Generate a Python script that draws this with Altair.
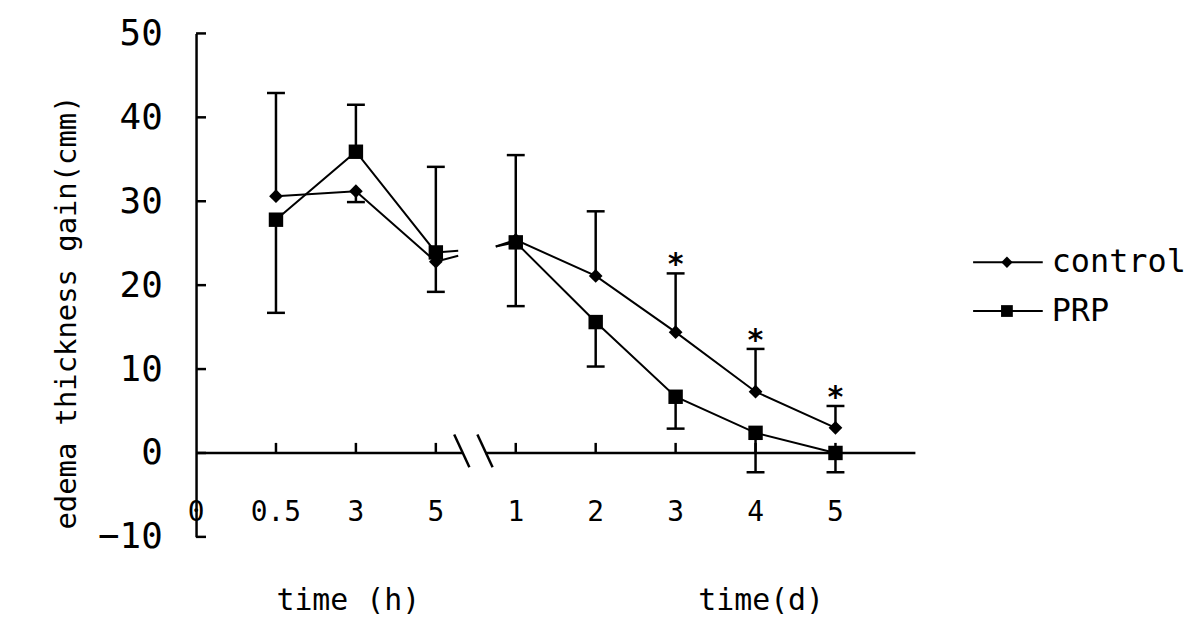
import altair as alt
import pandas as pd

# ---------------- data ----------------
tick_labels = ["0", "0.5", "3", "5", "1", "2", "3", "4", "5"]
tick_index = [0, 1, 2, 3, 4, 5, 6, 7, 8]
time_index = [1, 2, 3, 4, 5, 6, 7, 8]
segment = ["h", "h", "h", "d", "d", "d", "d", "d"]
series_names = ["control", "PRP"]
control_mean = [30.6, 31.2, 22.8, 25.4, 21.1, 14.4, 7.3, 3.0]
prp_mean = [27.8, 35.9, 23.9, 25.1, 15.6, 6.7, 2.4, 0.0]
control_err_end = [42.9, 29.9, 19.2, 35.5, 28.8, 21.4, 12.4, 5.6]
prp_err_end = [16.7, 41.5, 34.1, 17.5, 10.3, 2.9, -2.3, -2.3]
significant = [False, False, False, False, False, True, True, True]
# short line stubs drawn at the axis break
stub_index = {"h": 3.28, "d": 3.75}
control_stub = {"h": 23.5, "d": 24.6}
prp_stub = {"h": 24.1, "d": 24.6}
y_ticks = [-10, 0, 10, 20, 30, 40, 50]

FONT = "DejaVu Sans Mono"

means = {"control": control_mean, "PRP": prp_mean}
ends = {"control": control_err_end, "PRP": prp_err_end}
stubs = {"control": control_stub, "PRP": prp_stub}

pts = []
for s in series_names:
    for i, x in enumerate(time_index):
        pts.append({"series": s, "x": x, "mean": means[s][i], "end": ends[s][i],
                    "seg": segment[i], "sig": significant[i]})
pts_df = pd.DataFrame(pts)

line_rows = [dict(series=r["series"], seg=r["seg"], x=r["x"], mean=r["mean"]) for r in pts]
for s in series_names:
    for seg in ["h", "d"]:
        line_rows.append(dict(series=s, seg=seg, x=stub_index[seg], mean=stubs[s][seg]))
line_df = pd.DataFrame(line_rows)

xs = alt.Scale(domain=[0, 9], nice=False, zero=False)
ys = alt.Scale(domain=[-10, 50], nice=False, zero=False)

yaxis = alt.Axis(values=y_ticks, ticks=False, tickSize=0, labelPadding=34,
                 labelFont=FONT, labelFontSize=36, labelColor="black",
                 domainColor="black", domainWidth=2.5, grid=False,
                 title="edema thickness gain(cmm)", titleFont=FONT, titleFontSize=29,
                 titleFontWeight="normal", titleColor="black", titleAngle=270,
                 titleX=-121, titleY=280, titleBaseline="alphabetic", titleAlign="center")

X = lambda: alt.X("x:Q", scale=xs, axis=None)

lines = alt.Chart(line_df).mark_line(color="black", strokeWidth=2).encode(
    x=X(), y=alt.Y("mean:Q", scale=ys, axis=yaxis),
    detail=["series:N", "seg:N"], order="x:Q")

err = alt.Chart(pts_df).mark_rule(color="black", strokeWidth=2.5).encode(
    x=X(), y=alt.Y("mean:Q", scale=ys), y2="end:Q")
caps = alt.Chart(pts_df).mark_tick(color="black", thickness=2.5, size=18,
                                   orient="horizontal", opacity=1).encode(
    x=X(), y=alt.Y("end:Q", scale=ys))

shape_scale = alt.Scale(domain=series_names, range=["diamond", "square"])
size_scale = alt.Scale(domain=series_names, range=[190, 210])
points = alt.Chart(pts_df).mark_point(filled=True, color="black", opacity=1).encode(
    x=X(), y=alt.Y("mean:Q", scale=ys),
    shape=alt.Shape("series:N", scale=shape_scale, legend=None),
    size=alt.Size("series:N", scale=size_scale, legend=None))

stars = alt.Chart(pts_df).transform_filter(
    (alt.datum.sig == True) & (alt.datum.series == "control")
).mark_text(text="*", font=FONT, fontSize=30, fontWeight="bold", color="black",
            baseline="alphabetic", dy=1).encode(
    x=X(), y=alt.Y("end:Q", scale=ys))

# x axis (drawn by hand because of the break)
axis_segs = pd.DataFrame({"x": [0, 3.62], "x2": [3.33, 9]})
xaxis_line = alt.Chart(axis_segs).mark_rule(color="black", strokeWidth=2.5).encode(
    x=X(), x2="x2:Q", y=alt.datum(0))
slashes_df = pd.DataFrame({"x": [3.23, 3.52], "x2": [3.42, 3.71]})
slashes = alt.Chart(slashes_df).mark_rule(color="black", strokeWidth=2.5).encode(
    x=X(), x2="x2:Q", y=alt.Y(datum=2.2, scale=ys), y2=alt.datum(-1.7))
xticks = alt.Chart(pd.DataFrame({"x": time_index})).mark_rule(
    color="black", strokeWidth=2.5).encode(
    x=X(), y=alt.Y(datum=0, scale=ys), y2=alt.datum(1.2))
xlabels = alt.Chart(pd.DataFrame({"x": tick_index, "lab": tick_labels})).mark_text(
    font=FONT, fontSize=28, color="black", baseline="middle").encode(
    x=X(), y=alt.value(482), text="lab:N")
xtitle_h = alt.Chart(pd.DataFrame({"t": ["time (h)"]})).mark_text(
    font=FONT, fontSize=30, color="black", baseline="middle").encode(
    x=alt.value(153), y=alt.value(570), text="t:N")
xtitle_d = alt.Chart(pd.DataFrame({"t": ["time(d)"]})).mark_text(
    font=FONT, fontSize=30, color="black", baseline="middle").encode(
    x=alt.value(568), y=alt.value(570), text="t:N")

# y ticks pointing inward
yticks = alt.Chart(pd.DataFrame({"v": y_ticks})).mark_rule(
    color="black", strokeWidth=2.5).encode(
    y=alt.Y("v:Q", scale=ys), x=alt.value(0), x2=alt.value(10))

# legend
legend_layers = []
leg_shapes = {"control": ("diamond", 130), "PRP": ("square", 140)}
for i, name in enumerate(series_names):
    ypx = 230 + 49 * i
    d = pd.DataFrame({"name": [name]})
    legend_layers.append(alt.Chart(d).mark_rule(color="black", strokeWidth=2).encode(
        x=alt.value(781), x2=alt.value(851), y=alt.value(ypx)))
    legend_layers.append(alt.Chart(d).mark_point(
        filled=True, color="black", opacity=1, shape=leg_shapes[name][0],
        size=leg_shapes[name][1]).encode(x=alt.value(815), y=alt.value(ypx)))
    legend_layers.append(alt.Chart(d).mark_text(
        font=FONT, fontSize=32, color="black", align="left", baseline="middle").encode(
        x=alt.value(860), y=alt.value(ypx), text="name:N"))

chart = alt.layer(
    lines, err, caps, points, stars, xaxis_line, slashes, xticks, xlabels,
    xtitle_h, xtitle_d, yticks, *legend_layers
).properties(
    width=723, height=506,
    autosize=alt.AutoSizeParams(type="none"),
    padding={"left": 189, "top": 24, "right": 278, "bottom": 84},
    background="white",
).configure_view(stroke=None)

chart.save("out.html", embed_options={"renderer": "svg", "actions": False})
